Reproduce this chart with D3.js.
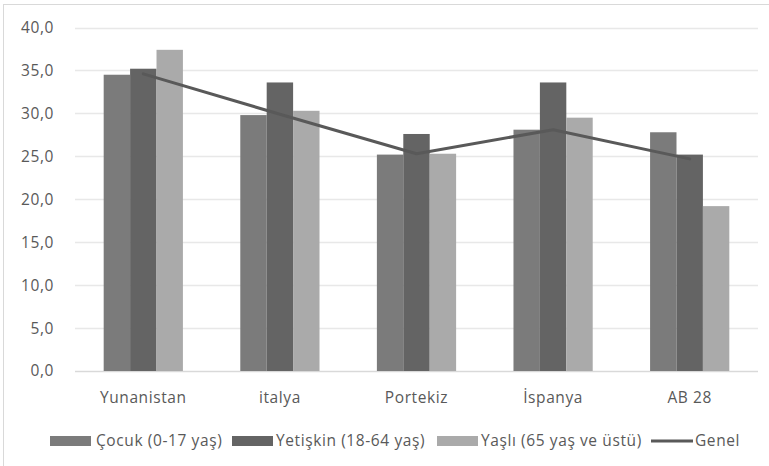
<!DOCTYPE html>
<html><head><meta charset="utf-8">
<script src="https://cdn.jsdelivr.net/npm/d3@7"></script>
<style>body{margin:0;background:#fff}svg{display:block}text{font-family:"Open Sans",sans-serif;fill:#595959;letter-spacing:0.6px}</style>
</head><body><svg id="c" width="769" height="466"></svg>
<script>
const categories = ["Yunanistan","italya","Portekiz","İspanya","AB 28"];
const seriesNames = ["Çocuk (0-17 yaş)","Yetişkin (18-64 yaş)","Yaşlı (65 yaş ve üstü)"];
const cocuk    = [34.5, 29.8, 25.2, 28.1, 27.8];
const yetiskin = [35.2, 33.6, 27.6, 33.6, 25.2];
const yasli    = [37.4, 30.3, 25.3, 29.5, 19.2];
const genel    = [34.6, 29.9, 25.3, 28.1, 24.7];
const lineName = "Genel";
const yTicks = [0,5,10,15,20,25,30,35,40];
const colors = ["#7b7b7b","#646464","#aaaaaa"];
const lineColor = "#595959";

const series = [cocuk, yetiskin, yasli];
const svg = d3.select("#c");
svg.append("rect").attr("x",3.5).attr("y",4.5).attr("width",780).attr("height",480)
  .attr("fill","none").attr("stroke","#d9d9d9");

const mLeft=75, mRight=758, mTop=27.5, mBottom=371;
const FS = 15.5;
const y = d3.scaleLinear().domain([0,40]).range([mBottom, mTop]);
const x0 = d3.scaleBand().domain(categories).range([mLeft,mRight]).paddingInner(0.42).paddingOuter(0.21);
const x1 = d3.scaleBand().domain(d3.range(series.length)).range([0,x0.bandwidth()]);

// grid
svg.append("g").selectAll("line").data(yTicks).join("line")
  .attr("x1",mLeft).attr("x2",mRight).attr("y1",d=>Math.round(y(d))+0.5).attr("y2",d=>Math.round(y(d))+0.5)
  .attr("stroke",(d)=>d===0?"#d9d9d9":"#e8e8e8").attr("stroke-width",1.5);

// y labels
const yAxis = d3.axisLeft(y).tickValues(yTicks).tickSize(0).tickPadding(0)
  .tickFormat(d=>d3.format(".1f")(d).replace(".",","));
const ya = svg.append("g").attr("transform","translate(54,0)").call(yAxis);
ya.select(".domain").remove();
ya.selectAll("text").attr("font-size",FS).attr("fill","#595959").attr("font-family","Open Sans");

// bars
const g = svg.append("g");
series.forEach((s,si)=>{
  g.selectAll(null).data(s).join("rect")
    .attr("x",(d,i)=>x0(categories[i])+x1(si))
    .attr("width",x1.bandwidth())
    .attr("y",d=>y(d)).attr("height",d=>y(0)-y(d))
    .attr("fill",colors[si]);
});

// line
const line = d3.line().x((d,i)=>x0(categories[i])+x0.bandwidth()/2).y(d=>y(d));
svg.append("path").datum(genel).attr("d",line).attr("fill","none")
  .attr("stroke",lineColor).attr("stroke-width",3).attr("stroke-linejoin","round").attr("stroke-linecap","round");

// x labels
const xAxis = d3.axisBottom(x0).tickSize(0).tickPadding(0);
const xa = svg.append("g").attr("transform","translate(0,392)").call(xAxis);
xa.select(".domain").remove();
xa.selectAll("text").attr("font-size",FS).attr("fill","#595959").attr("font-family","Open Sans").attr("dy","0.71em");

// legend
const legY = 441;
const leg = [
  {type:"rect", c:colors[0], name:seriesNames[0], sx:50, tx:96},
  {type:"rect", c:colors[1], name:seriesNames[1], sx:232, tx:276},
  {type:"rect", c:colors[2], name:seriesNames[2], sx:437, tx:481},
  {type:"line", c:lineColor, name:lineName, sx:651, tx:695}
];
const lg = svg.append("g");
leg.forEach(l=>{
  if(l.type==="rect") lg.append("rect").attr("x",l.sx).attr("y",legY-5).attr("width",41).attr("height",10).attr("fill",l.c);
  else lg.append("line").attr("x1",l.sx).attr("x2",l.sx+42).attr("y1",legY).attr("y2",legY).attr("stroke",l.c).attr("stroke-width",3);
  lg.append("text").attr("x",l.tx).attr("y",legY).attr("dy","0.35em").attr("font-size",FS).text(l.name);
});
</script></body></html>
